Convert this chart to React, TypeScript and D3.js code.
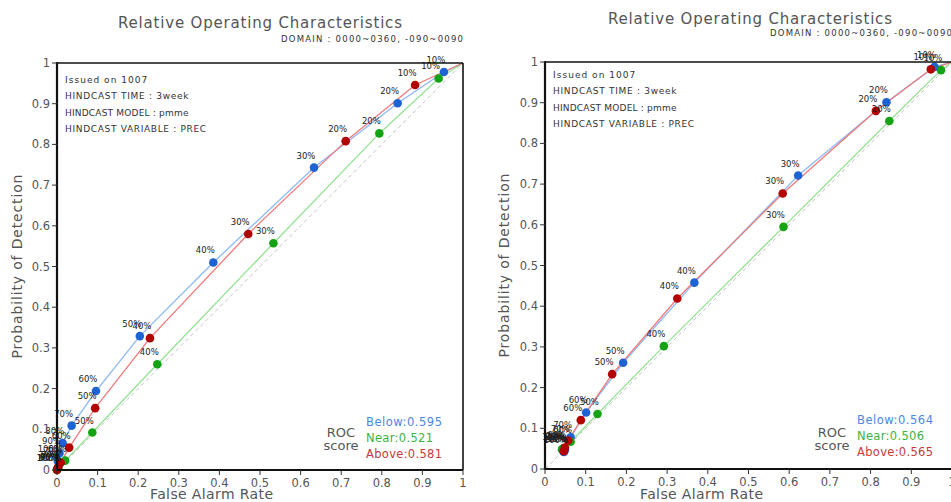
import React from "react";
import * as d3 from "d3";

const thresholds = ["10%", "20%", "30%", "40%", "50%", "60%", "70%", "80%", "90%", "100%"];
const tickValues = [0, 0.1, 0.2, 0.3, 0.4, 0.5, 0.6, 0.7, 0.8, 0.9, 1];

// Left panel
const belowFA_L = [0.953, 0.839, 0.633, 0.385, 0.204, 0.096, 0.036, 0.014, 0.006, 0.002];
const belowHR_L = [0.978, 0.901, 0.743, 0.51, 0.329, 0.194, 0.109, 0.066, 0.041, 0.022];
const nearFA_L = [0.94, 0.794, 0.533, 0.247, 0.087, 0.02, 0.004, 0.001, 0.0, 0.0];
const nearHR_L = [0.962, 0.827, 0.557, 0.26, 0.092, 0.023, 0.008, 0.003, 0.001, 0.0];
const aboveFA_L = [0.882, 0.711, 0.471, 0.229, 0.094, 0.03, 0.009, 0.003, 0.001, 0.0];
const aboveHR_L = [0.946, 0.808, 0.58, 0.324, 0.152, 0.055, 0.018, 0.008, 0.003, 0.0];

// Right panel
const belowFA_R = [0.957, 0.839, 0.622, 0.367, 0.192, 0.101, 0.063, 0.049, 0.047, 0.046];
const belowHR_R = [0.988, 0.901, 0.721, 0.458, 0.261, 0.139, 0.078, 0.047, 0.043, 0.042];
const nearFA_R = [0.973, 0.846, 0.586, 0.292, 0.129, 0.063, 0.045, 0.043, 0.042, 0.042];
const nearHR_R = [0.98, 0.855, 0.595, 0.302, 0.135, 0.067, 0.051, 0.049, 0.048, 0.048];
const aboveFA_R = [0.948, 0.813, 0.584, 0.325, 0.165, 0.088, 0.057, 0.049, 0.047, 0.046];
const aboveHR_R = [0.982, 0.88, 0.677, 0.419, 0.233, 0.12, 0.07, 0.053, 0.045, 0.044];

const scoresL = { below: "0.595", near: "0.521", above: "0.581" };
const scoresR = { below: "0.564", near: "0.506", above: "0.565" };

const infoLines = [
  "Issued on 1007",
  "HINDCAST TIME : 3week",
  "HINDCAST MODEL : pmme",
  "HINDCAST VARIABLE : PREC",
];

const COL = {
  belowLine: "#8cb8f2",
  belowPt: "#1e63d4",
  nearLine: "#94e294",
  nearPt: "#14a314",
  aboveLine: "#f07a7a",
  abovePt: "#b30000",
  belowTxt: "#4a88e2",
  nearTxt: "#3cb43c",
  aboveTxt: "#c43a3a",
};

const FONT = "'DejaVu Sans', sans-serif";

type Panel = {
  x0: number; x1: number; y0: number; y1: number;
  titleY: number; titleX: number; domainX: number; domainY: number;
  infoX: number; infoY: number;
  series: { fa: number[]; hr: number[]; line: string; pt: string }[];
  scores: { below: string; near: string; above: string };
  rocX: number; legX: number; legY: number;
  xLabelX: number; yLabelX: number;
  startOrigin: boolean;
};

const panels: Panel[] = [
  {
    x0: 57, x1: 463, y0: 470, y1: 63,
    titleX: 118, titleY: 28, domainX: 281, domainY: 42,
    infoX: 65, infoY: 83,
    series: [
      { fa: belowFA_L, hr: belowHR_L, line: COL.belowLine, pt: COL.belowPt },
      { fa: nearFA_L, hr: nearHR_L, line: COL.nearLine, pt: COL.nearPt },
      { fa: aboveFA_L, hr: aboveHR_L, line: COL.aboveLine, pt: COL.abovePt },
    ],
    scores: scoresL,
    rocX: 341, legX: 366, legY: 426,
    xLabelX: 150, yLabelX: 22,
    startOrigin: true,
  },
  {
    x0: 545, x1: 952, y0: 469, y1: 62,
    titleX: 608, titleY: 24, domainX: 770, domainY: 36,
    infoX: 553, infoY: 78,
    series: [
      { fa: belowFA_R, hr: belowHR_R, line: COL.belowLine, pt: COL.belowPt },
      { fa: nearFA_R, hr: nearHR_R, line: COL.nearLine, pt: COL.nearPt },
      { fa: aboveFA_R, hr: aboveHR_R, line: COL.aboveLine, pt: COL.abovePt },
    ],
    scores: scoresR,
    rocX: 832, legX: 857, legY: 424,
    xLabelX: 640, yLabelX: 509,
    startOrigin: false,
  },
];

function ROCPanel({ p }: { p: Panel }) {
  const x = d3.scaleLinear().domain([0, 1]).range([p.x0, p.x1]);
  const y = d3.scaleLinear().domain([0, 1]).range([p.y0, p.y1]);
  const fmt = d3.format("~g");
  const line = d3
    .line<[number, number]>()
    .x((d) => x(d[0]))
    .y((d) => y(d[1]));
  const yMid = (p.y0 + p.y1) / 2;
  return (
    <g>
      <text x={p.titleX} y={p.titleY} fontFamily={FONT} fontSize={15} fill="#555"
        textLength={284} lengthAdjust="spacing">Relative Operating Characteristics</text>
      <text x={p.domainX} y={p.domainY} fontFamily={FONT} fontSize={8.5} fill="#333"
        textLength={182} lengthAdjust="spacing">DOMAIN : 0000~0360, -090~0090</text>

      {/* diagonal */}
      <path d={line([[0, 0], [1, 1]]) || ""} stroke="#c4c4c4" strokeWidth={1} strokeDasharray="4,3" fill="none" />

      {/* series lines */}
      {p.series.map((s, i) => {
        const pts: [number, number][] = [[1, 1], ...s.fa.map((f, j) => [f, s.hr[j]] as [number, number])];
        if (p.startOrigin) pts.push([0, 0]);
        return <path key={"l" + i} d={line(pts) || ""} stroke={s.line} strokeWidth={1.3} fill="none" />;
      })}
      {/* points */}
      {p.series.map((s, i) =>
        s.fa.map((f, j) => (
          <circle key={"c" + i + "-" + j} cx={x(f)} cy={y(s.hr[j])} r={4.3} fill={s.pt} />
        ))
      )}
      {/* labels */}
      {p.series.map((s, i) =>
        s.fa.map((f, j) => (
          <text key={"t" + i + "-" + j} x={x(f) - 8} y={y(s.hr[j]) - 9} textAnchor="middle"
            fontFamily={FONT} fontSize={8.5} fill="#222">{thresholds[j]}</text>
        ))
      )}

      {/* frame */}
      <line x1={p.x0} x2={p.x1} y1={p.y1} y2={p.y1} stroke="#111" strokeWidth={1.6} />
      <line x1={p.x1} x2={p.x1} y1={p.y1} y2={p.y0} stroke="#111" strokeWidth={1.6} />
      <line x1={p.x0} x2={p.x0} y1={p.y1 - 1} y2={p.y0 + 1} stroke="#111" strokeWidth={2.2} />
      <line x1={p.x0 - 1} x2={p.x1} y1={p.y0} y2={p.y0} stroke="#111" strokeWidth={2.2} />

      {/* y ticks */}
      {tickValues.map((t) => (
        <g key={"yt" + t}>
          <line x1={p.x0 - 5} x2={p.x0} y1={y(t)} y2={y(t)} stroke="#333" strokeWidth={1} />
          <text x={p.x0 - 7} y={y(t) + 4} textAnchor="end" fontFamily={FONT} fontSize={11.5} fill="#555">{fmt(t)}</text>
        </g>
      ))}
      {/* x ticks */}
      {tickValues.map((t) => (
        <g key={"xt" + t}>
          <line x1={x(t)} x2={x(t)} y1={p.y0} y2={p.y0 + 5} stroke="#333" strokeWidth={1} />
          <text x={x(t)} y={p.y0 + 17} textAnchor="middle" fontFamily={FONT} fontSize={11.5} fill="#555">{fmt(t)}</text>
        </g>
      ))}

      <text x={p.xLabelX} y={499} fontFamily={FONT} fontSize={14} fill="#555"
        textLength={123} lengthAdjust="spacing">False Alarm Rate</text>
      <text transform={`translate(${p.yLabelX},${yMid}) rotate(-90)`} textAnchor="middle"
        fontFamily={FONT} fontSize={14} fill="#555" textLength={184} lengthAdjust="spacing">Probability of Detection</text>

      {/* info */}
      {infoLines.map((t, i) => (
        <text key={"i" + i} x={p.infoX} y={p.infoY + i * 16.4} fontFamily={FONT} fontSize={9} fill="#333"
          textLength={t.length * 5.88} lengthAdjust="spacing">{t}</text>
      ))}

      {/* ROC score legend */}
      <text x={p.rocX} y={437} textAnchor="middle" fontFamily={FONT} fontSize={13} fill="#555">ROC</text>
      <text x={p.rocX} y={450} textAnchor="middle" fontFamily={FONT} fontSize={13} fill="#555">score</text>
      <text x={p.legX} y={p.legY} fontFamily={FONT} fontSize={11.5} fill={COL.belowTxt}
        textLength={76} lengthAdjust="spacing">Below:{p.scores.below}</text>
      <text x={p.legX} y={p.legY + 16} fontFamily={FONT} fontSize={11.5} fill={COL.nearTxt}
        textLength={67} lengthAdjust="spacing">Near:{p.scores.near}</text>
      <text x={p.legX} y={p.legY + 32} fontFamily={FONT} fontSize={11.5} fill={COL.aboveTxt}
        textLength={76} lengthAdjust="spacing">Above:{p.scores.above}</text>
    </g>
  );
}

export default function App() {
  return (
    <svg width={951} height={502} style={{ position: "absolute", left: 0, top: 0, background: "#fff" }}>
      <rect x={0} y={0} width={951} height={502} fill="#fff" />
      {panels.map((p, i) => (
        <ROCPanel key={i} p={p} />
      ))}
    </svg>
  );
}
